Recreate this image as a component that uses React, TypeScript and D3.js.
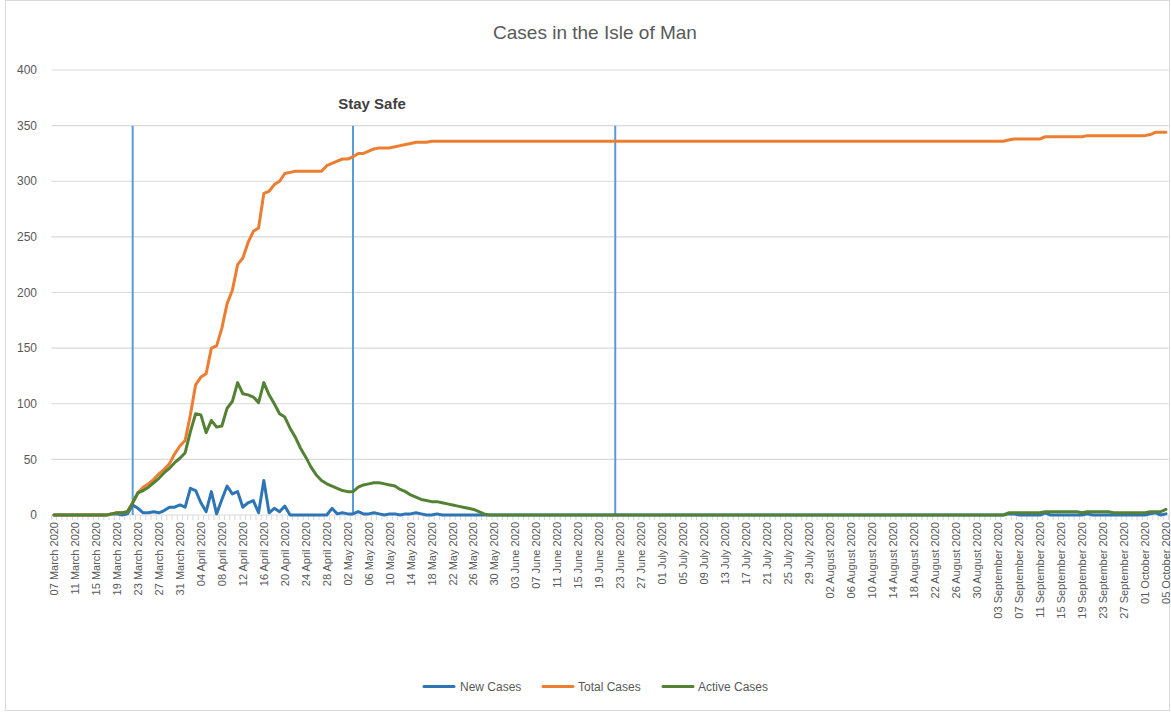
import React from 'react';
import * as d3 from 'd3';

const WIDTH = 1171;
const HEIGHT = 712;

const START_DATE = new Date(2020, 2, 7);
const END_DATE = new Date(2020, 9, 5);

// daily values, one row per month (7 March .. 5 October 2020)
const newCases = [
  0, 0, 0, 0, 0, 0, 0, 0, 0, 0, 0, 1, 1, 0, 1, 9, 6, 2, 2, 3, 2, 4, 7, 7, 9,
  7, 24, 22, 11, 3, 21, 1, 14, 26, 19, 21, 7, 11, 13, 2, 31, 2, 6, 3, 8, 0, 0, 0, 0, 0, 0, 0, 0, 6, 1,
  2, 1, 1, 3, 1, 1, 2, 1, 0, 1, 1, 0, 1, 1, 2, 1, 0, 0, 1, 0, 0, 0, 0, 0, 0, 0, 0, 0, 0, 0, 0,
  0, 0, 0, 0, 0, 0, 0, 0, 0, 0, 0, 0, 0, 0, 0, 0, 0, 0, 0, 0, 0, 0, 0, 0, 0, 0, 0, 0, 0, 0,
  0, 0, 0, 0, 0, 0, 0, 0, 0, 0, 0, 0, 0, 0, 0, 0, 0, 0, 0, 0, 0, 0, 0, 0, 0, 0, 0, 0, 0, 0, 0,
  0, 0, 0, 0, 0, 0, 0, 0, 0, 0, 0, 0, 0, 0, 0, 0, 0, 0, 0, 0, 0, 0, 0, 0, 0, 0, 0, 0, 0, 0, 0,
  0, 0, 0, 0, 1, 1, 0, 0, 0, 0, 0, 2, 0, 0, 0, 0, 0, 0, 0, 1, 0, 0, 0, 0, 0, 0, 0, 0, 0, 0,
  0, 1, 2, 0, 1,
];

const totalCases = [
  0, 0, 0, 0, 0, 0, 0, 0, 0, 0, 0, 1, 2, 2, 3, 11, 20, 25, 28, 32, 37, 41, 46, 55, 62,
  67, 90, 117, 124, 127, 150, 152, 168, 190, 202, 225, 231, 245, 255, 258, 289, 291, 297, 300, 307,
  308, 309, 309, 309, 309, 309, 309, 314, 316, 318,
  320, 320, 322, 325, 325, 327, 329, 330, 330, 330, 331, 332, 333, 334, 335, 335, 335, 336,
  336, 336, 336, 336, 336, 336, 336, 336, 336, 336, 336, 336, 336,
  336, 336, 336, 336, 336, 336, 336, 336, 336, 336, 336, 336, 336, 336, 336, 336, 336, 336, 336, 336,
  336, 336, 336, 336, 336, 336, 336, 336, 336, 336,
  336, 336, 336, 336, 336, 336, 336, 336, 336, 336, 336, 336, 336, 336, 336, 336, 336, 336, 336, 336,
  336, 336, 336, 336, 336, 336, 336, 336, 336, 336, 336,
  336, 336, 336, 336, 336, 336, 336, 336, 336, 336, 336, 336, 336, 336, 336, 336, 336, 336, 336, 336,
  336, 336, 336, 336, 336, 336, 336, 336, 336, 336, 336,
  336, 336, 336, 336, 337, 338, 338, 338, 338, 338, 338, 340, 340, 340, 340, 340, 340, 340, 340, 341,
  341, 341, 341, 341, 341, 341, 341, 341, 341, 341,
  341, 342, 344, 344, 344,
];

const activeCases = [
  0, 0, 0, 0, 0, 0, 0, 0, 0, 0, 0, 1, 2, 2, 3, 11, 20, 22, 25, 29, 33, 38, 42, 47, 51,
  56, 75, 91, 90, 74, 85, 79, 80, 96, 102, 119, 109, 108, 106, 101, 119, 108, 100, 91, 88,
  78, 70, 60, 52, 43, 36, 31, 28, 26, 24,
  22, 21, 21, 25, 27, 28, 29, 29, 28, 27, 26, 23, 21, 18, 16, 14, 13, 12, 12, 11,
  10, 9, 8, 7, 6, 5, 3, 1, 0, 0, 0,
  0, 0, 0, 0, 0, 0, 0, 0, 0, 0, 0, 0, 0, 0, 0, 0, 0, 0, 0, 0, 0, 0, 0, 0, 0, 0, 0, 0, 0, 0,
  0, 0, 0, 0, 0, 0, 0, 0, 0, 0, 0, 0, 0, 0, 0, 0, 0, 0, 0, 0, 0, 0, 0, 0, 0, 0, 0, 0, 0, 0, 0,
  0, 0, 0, 0, 0, 0, 0, 0, 0, 0, 0, 0, 0, 0, 0, 0, 0, 0, 0, 0, 0, 0, 0, 0, 0, 0, 0, 0, 0, 0, 0,
  0, 0, 0, 0, 2, 2, 2, 2, 2, 2, 2, 3, 3, 3, 3, 3, 3, 3, 2, 3, 3, 3, 3, 3, 2, 2, 2, 2, 2, 2,
  2, 3, 3, 3, 5,
];

const yTicks = [0, 50, 100, 150, 200, 250, 300, 350, 400];

// vertical marker lines drawn on the chart
const markerDates = [new Date(2020, 2, 22), new Date(2020, 4, 3), new Date(2020, 5, 22)];
const annotation = 'Stay Safe';

const seriesList = [
  { name: 'New Cases', values: newCases, color: '#2E75B6' },
  { name: 'Total Cases', values: totalCases, color: '#ED7D31' },
  { name: 'Active Cases', values: activeCases, color: '#548235' },
];

const FONT = '"Liberation Sans", Arial, sans-serif';
const TEXT = '#595959';
const GRID = '#d9d9d9';

export default function App() {
  const days = d3.timeDay.range(START_DATE, d3.timeDay.offset(END_DATE, 1));
  const idx = days.map((_, i) => i);

  const margin = { left: 51.4, right: 1168.6, top: 70, bottom: 515 };

  const x = d3.scaleBand<number>().domain(idx).range([margin.left, margin.right]).paddingInner(0);
  const bw = x.bandwidth();
  const cx = (i: number) => (x(i) as number) + bw / 2;

  const y = d3.scaleLinear().domain([0, 400]).range([margin.bottom, margin.top]);

  const line = d3
    .line<number>()
    .x((_d, i) => cx(i))
    .y((d) => y(d));

  const fmt = d3.timeFormat('%d %B %Y');
  const labelIdx = idx.filter((i) => i % 4 === 0);
  const tickEdges = d3.range(idx.length + 1).map((k) => margin.left + k * bw);

  const markerX = markerDates.map((dt) => cx(d3.timeDay.count(START_DATE, dt)));

  const legendItems = [
    { x: 424, lx: 460 },
    { x: 543, lx: 578 },
    { x: 663, lx: 698 },
  ];

  return (
    <div>
      <style>{'body{margin:0;}'}</style>
      <svg width={WIDTH} height={HEIGHT} style={{ display: 'block', background: '#fff' }} fontFamily={FONT}>
        <rect x={5.5} y={0.5} width={1164} height={710} fill="#fff" stroke={GRID} />

        <text x={595} y={39} textAnchor="middle" fontSize={19} fill={TEXT}>
          Cases in the Isle of Man
        </text>

        {/* gridlines + y labels */}
        {yTicks.map((t) => (
          <g key={t}>
            <line x1={margin.left} x2={margin.right} y1={y(t)} y2={y(t)} stroke={GRID} strokeWidth={1.2} />
            <text x={37} y={y(t)} dy="0.35em" textAnchor="end" fontSize={12} fill={TEXT}>
              {t}
            </text>
          </g>
        ))}

        {/* category ticks */}
        {tickEdges.map((tx, k) => (
          <line key={k} x1={tx} x2={tx} y1={y(0)} y2={y(0) + 5} stroke={GRID} strokeWidth={1} />
        ))}

        {/* x labels */}
        {labelIdx.map((i) => (
          <text
            key={i}
            transform={`translate(${cx(i)},${y(0) + 7}) rotate(-90)`}
            dy="0.35em"
            textAnchor="end"
            fontSize={11}
            fill={TEXT}
          >
            {fmt(days[i])}
          </text>
        ))}

        {/* marker lines */}
        {markerX.map((mx, k) => (
          <line key={k} x1={mx} x2={mx} y1={y(350)} y2={y(0)} stroke="#5B9BD5" strokeWidth={2} />
        ))}
        <text x={markerX[1] + 19} y={109} textAnchor="middle" fontSize={15} fontWeight="bold" fill="#404040">
          {annotation}
        </text>

        {/* series */}
        {seriesList.map((s) => (
          <path
            key={s.name}
            d={line(s.values) || ''}
            fill="none"
            stroke={s.color}
            strokeWidth={3}
            strokeLinejoin="round"
            strokeLinecap="round"
          />
        ))}

        {/* legend */}
        {seriesList.map((s, k) => (
          <g key={s.name}>
            <line
              x1={legendItems[k].x}
              x2={legendItems[k].x + 30}
              y1={686.5}
              y2={686.5}
              stroke={s.color}
              strokeWidth={3}
              strokeLinecap="round"
            />
            <text x={legendItems[k].lx} y={686.5} dy="0.35em" fontSize={12} fill={TEXT}>
              {s.name}
            </text>
          </g>
        ))}
      </svg>
    </div>
  );
}
